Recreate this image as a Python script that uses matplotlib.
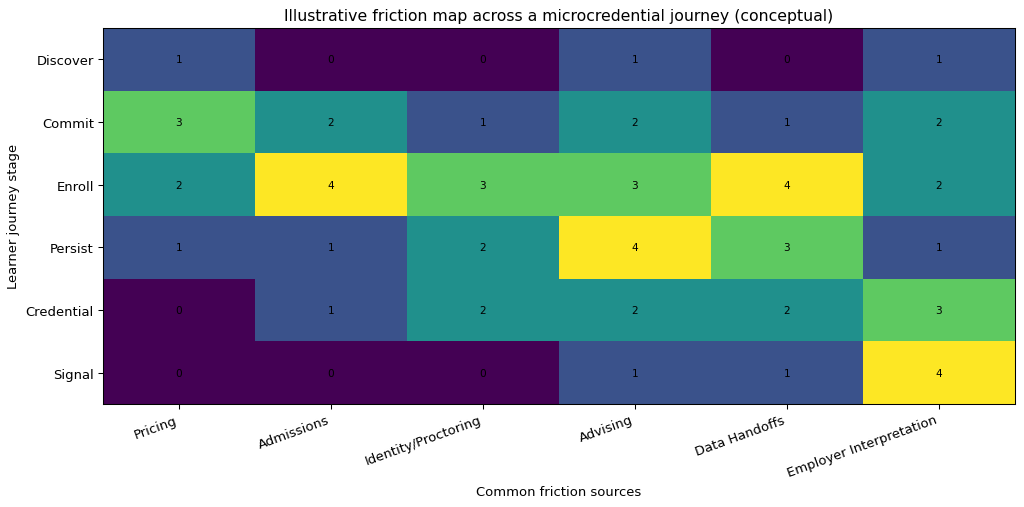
import matplotlib.pyplot as plt
import numpy as np

# data
stages = ['Discover', 'Commit', 'Enroll', 'Persist', 'Credential', 'Signal']
sources = ['Pricing', 'Admissions', 'Identity/Proctoring', 'Advising',
           'Data Handoffs', 'Employer Interpretation']
friction = np.array([
    [1, 0, 0, 1, 0, 1],
    [3, 2, 1, 2, 1, 2],
    [2, 4, 3, 3, 4, 2],
    [1, 1, 2, 4, 3, 1],
    [0, 1, 2, 2, 2, 3],
    [0, 0, 0, 1, 1, 4],
])

dpi = 94.3
fig, ax = plt.subplots(figsize=(1024 / dpi, 508 / dpi), dpi=dpi)
ax.imshow(friction, cmap='viridis', aspect='auto', vmin=0, vmax=4)

# 标注数值
for i in range(len(stages)):
    for j in range(len(sources)):
        ax.text(j, i, str(friction[i, j]), ha='center', va='center', fontsize=8, color='black')

ax.set_xticks(range(len(sources)))
ax.set_xticklabels(sources, rotation=20, ha='right')
ax.set_yticks(range(len(stages)))
ax.set_yticklabels(stages)
ax.set_xlabel('Common friction sources')
ax.set_ylabel('Learner journey stage')
ax.set_title('Illustrative friction map across a microcredential journey (conceptual)')

plt.subplots_adjust(left=0.1006, right=0.991, top=0.943, bottom=0.203)
plt.savefig('out.png', dpi=dpi)
